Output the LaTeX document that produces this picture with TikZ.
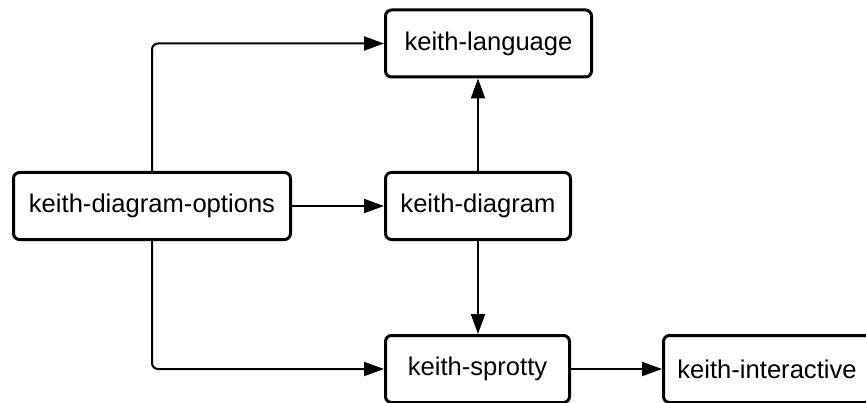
\documentclass[tikz,border=0pt]{standalone}
\usepackage{fontspec}
\setmainfont{Liberation Sans}
\usetikzlibrary{arrows.meta}

\tikzset{
  module/.style={draw=black, line width=3pt, rounded corners=6pt, fill=white,
    minimum height=67pt, inner sep=0pt,
    font=\fontsize{25.6}{30}\selectfont},
  dep/.style={draw=black, line width=2pt, rounded corners=6pt,
    -{Triangle[length=20pt,width=14pt]}}
}

\begin{document}
\begin{tikzpicture}[x=1pt, y=-1pt]
  \useasboundingbox (0,0) rectangle (866,403);
  \clip (0,0) rectangle (866,403);

  % packages
  \node[module, minimum width=277pt] (opt)   at (152,206)   {keith-diagram-options};
  \node[module, minimum width=206pt] (lang)  at (488.5,43.5) {keith-language};
  \node[module, minimum width=185pt] (diag)  at (478,206)   {keith-diagram};
  \node[module, minimum width=184pt] (spr)   at (477.5,369) {keith-sprotty};
  \node[module, minimum width=207pt] (inter) at (767,369)   {keith-interactive};

  % dependencies
  \draw[dep] (opt.north) |- (lang.west);
  \draw[dep] (opt.east) -- (diag.west);
  \draw[dep] (opt.south) |- (spr.west);
  \draw[dep] (diag.north) -- (diag.north |- lang.south);
  \draw[dep] (diag.south) -- (diag.south |- spr.north);
  \draw[dep] (spr.east) -- (inter.west);
\end{tikzpicture}
\end{document}
